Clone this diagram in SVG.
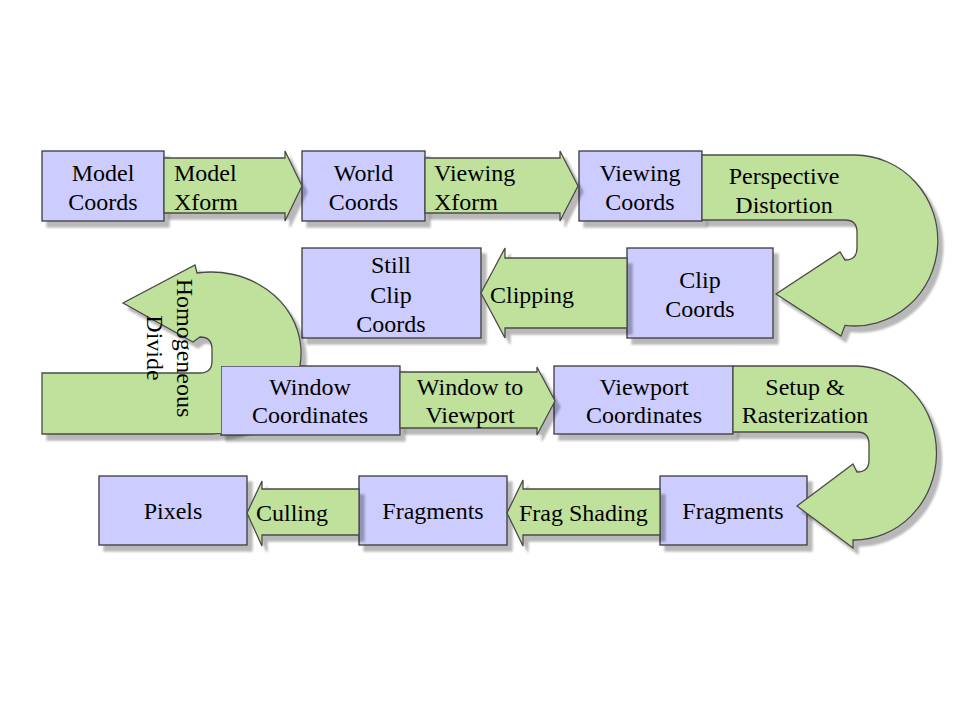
<svg xmlns="http://www.w3.org/2000/svg" width="960" height="720" viewBox="0 0 960 720">
<defs>
<filter id="sh" x="-10%" y="-10%" width="130%" height="140%">
<feGaussianBlur in="SourceAlpha" stdDeviation="1.2"/>
<feOffset dx="5" dy="6" result="o"/>
<feFlood flood-color="#000" flood-opacity="0.28"/>
<feComposite in2="o" operator="in"/>
<feMerge><feMergeNode/><feMergeNode in="SourceGraphic"/></feMerge>
</filter>
<clipPath id="noWin"><path clip-rule="evenodd" d="M0,0H960V720H0Z M221,366H400V435H221Z"/></clipPath>
</defs>
<style>
.box{fill:#ccccff;stroke:#3a3a3a;stroke-width:1.3;filter:url(#sh)}
.arr{fill:#bfe19b;stroke:#4a4a4a;stroke-width:1.3;stroke-linejoin:miter;filter:url(#sh)}
text{font-family:"Liberation Serif","Times New Roman",serif;font-size:24px;fill:#000}
.m{text-anchor:middle}
</style>
<rect width="960" height="720" fill="#fff"/>
<g id="model-coords"><rect class="box" x="42" y="151" width="122" height="70"/><text class="m" x="103" y="181">Model</text><text class="m" x="103" y="210">Coords</text></g>
<g id="world-coords"><rect class="box" x="302" y="151" width="123" height="70"/><text class="m" x="363.5" y="181">World</text><text class="m" x="363.5" y="210">Coords</text></g>
<g id="viewing-coords"><rect class="box" x="579" y="151" width="123" height="70"/><text class="m" x="640" y="181">Viewing</text><text class="m" x="640" y="210">Coords</text></g>
<g id="clip-coords"><rect class="box" x="627" y="248" width="146" height="90"/><text class="m" x="700" y="288">Clip</text><text class="m" x="700" y="317">Coords</text></g>
<g id="still-clip-coords"><rect class="box" x="302" y="248" width="179" height="90"/><text class="m" x="391" y="273">Still</text><text class="m" x="391" y="303">Clip</text><text class="m" x="391" y="332">Coords</text></g>
<g id="window-coordinates"><rect class="box" x="221" y="366" width="179" height="69"/><text class="m" x="310" y="395">Window</text><text class="m" x="310" y="423">Coordinates</text></g>
<g id="viewport-coordinates"><rect class="box" x="554" y="366" width="179" height="68"/><text class="m" x="644" y="395">Viewport</text><text class="m" x="644" y="423">Coordinates</text></g>
<g id="fragments-right"><rect class="box" x="660" y="476" width="147" height="69"/><text class="m" x="733" y="519">Fragments</text></g>
<g id="fragments-middle"><rect class="box" x="359" y="476" width="148" height="69"/><text class="m" x="433" y="519">Fragments</text></g>
<g id="pixels"><rect class="box" x="99" y="476" width="148" height="69"/><text class="m" x="173" y="519">Pixels</text></g>
<g id="connectors">
<g id="model-xform">
<path class="arr" d="M164,158 H285 V151 L302,186 L285,221 V213 H164 Z"/>
<text x="174" y="181">Model</text><text x="174" y="210">Xform</text>
</g>
<g id="viewing-xform">
<path class="arr" d="M425,158 H560 V151 L578,186 L560,221 V213 H425 Z"/>
<text x="434" y="181">Viewing</text><text x="434" y="210">Xform</text>
</g>
<g id="perspective-distortion">
<path class="arr" d="M702,155 H855 A83,85.5 0 1 1 845,325.4 L841,336 L776,294 L840,252 L845,260 Q857,260 857,248 V232 Q857,220 845,220 H702 Z"/>
<text class="m" x="784" y="184">Perspective</text><text class="m" x="784" y="213">Distortion</text>
</g>
<g id="clipping">
<path class="arr" d="M627,258 H505 V248 L481,293 L505,338 V328 H627 Z"/>
<text x="490" y="303">Clipping</text>
</g>
<g id="homogeneous-divide">
<g clip-path="url(#noWin)">
<path class="arr" d="M42,373 H200 Q212,373 212,361 V349 Q212,337 200,337 L193,342 L123,303 L195,265 L197,273 A90,81 0 1 1 212,434 H42 Z"/>
</g>
<text class="m" transform="translate(177,348) rotate(90)">Homogeneous</text>
<text class="m" transform="translate(147,348) rotate(90)">Divide</text>
</g>
<g id="window-to-viewport">
<path class="arr" d="M400,372 H537 V367 L555,401 L537,435 V428 H400 Z"/>
<text class="m" x="470" y="395">Window to</text><text class="m" x="470" y="423">Viewport</text>
</g>
<g id="setup-rasterization">
<path class="arr" d="M733,366 H856 A82,87 0 1 1 853,540 L853,548 L797,506 L853,464 L857,472 Q869,472 869,460 V444 Q869,432 857,432 H733 Z"/>
<text class="m" x="805" y="395">Setup &amp;</text><text class="m" x="805" y="423">Rasterization</text>
</g>
<g id="frag-shading">
<path class="arr" d="M660,489 H523 V480 L507,513 L523,546 V535 H660 Z"/>
<text x="519" y="521">Frag Shading</text>
</g>
<g id="culling">
<path class="arr" d="M359,489 H262 V481 L247,513 L262,546 V535 H359 Z"/>
<text x="256" y="521">Culling</text>
</g>
</g>
</svg>
